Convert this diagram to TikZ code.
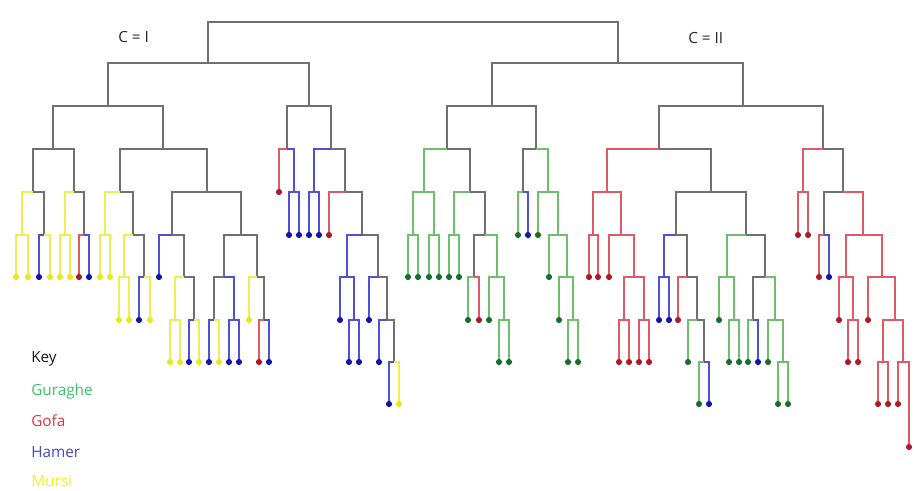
\documentclass[tikz,border=0pt]{standalone}
\usepackage{fontspec}
\setmainfont{Open Sans}
\definecolor{cK}{RGB}{112,112,112}
\definecolor{cG}{RGB}{110,190,110}
\definecolor{cR}{RGB}{222,90,100}
\definecolor{cB}{RGB}{80,80,215}
\definecolor{cY}{RGB}{238,238,80}
\definecolor{dG}{RGB}{25,110,45}
\definecolor{dR}{RGB}{175,25,35}
\definecolor{dB}{RGB}{20,20,170}
\definecolor{dY}{RGB}{232,232,30}
\definecolor{tG}{RGB}{60,195,100}
\definecolor{tR}{RGB}{225,50,70}
\definecolor{tB}{RGB}{70,70,205}
\definecolor{tY}{RGB}{240,240,40}
\newcommand\Br[5]{\coordinate (#2) at (#3,#4); \draw[#5] (#1) -| (#2);}
\newcommand\Lv[5]{\coordinate (#2) at (#3,#4); \draw[#5] (#1) -| (#2); \fill[#5d] (#2) circle (2.3pt);}
\tikzset{
  sK/.style={draw=cK,line width=1.5pt},
  sG/.style={draw=cG,line width=1.1pt},
  sR/.style={draw=cR,line width=1.1pt},
  sB/.style={draw=cB,line width=1.1pt},
  sY/.style={draw=cY,line width=1.1pt},
  sGd/.style={fill=dG},
  sRd/.style={fill=dR},
  sBd/.style={fill=dB},
  sYd/.style={fill=dY},
  lab/.style={inner sep=0pt,anchor=base west,font=\fontsize{11.5}{13}\selectfont},
}
\begin{document}
\begin{tikzpicture}[x=0.75pt,y=-0.75pt]
\useasboundingbox (0,0) rectangle (914,491);
\fill[white] (0,0) rectangle (914,491);
\coordinate (r) at (413,22);
\Br{r}{L}{208}{63}{sK}
\Br{r}{R}{618}{63}{sK}
\Br{L}{A}{108}{106}{sK}
\Br{L}{B}{309}{106}{sK}
\Br{R}{C}{492}{106}{sK}
\Br{R}{D}{743}{106}{sK}
% ---- A
\Br{A}{A1}{53}{149}{sK}
\Br{A}{A2}{163}{149}{sK}
\Br{A1}{a1}{33}{192}{sK}
\Br{a1}{a11}{22}{235}{sY}
\Lv{a11}{l1}{16}{277}{sY}
\Lv{a11}{l2}{28}{277}{sY}
\Br{a1}{a12}{44}{235}{sK}
\Lv{a12}{l3}{39}{277}{sB}
\Lv{a12}{l4}{50}{277}{sY}
\Br{A1}{a2}{74}{192}{sK}
\Br{a2}{a21}{65}{235}{sY}
\Lv{a21}{l5}{60}{277}{sY}
\Lv{a21}{l6}{70}{277}{sY}
\Br{a2}{a22}{84}{235}{sK}
\Lv{a22}{l7}{79}{277}{sR}
\Lv{a22}{l8}{89}{277}{sB}
\Br{A2}{a3}{120}{192}{sK}
\Br{a3}{a31}{105}{235}{sY}
\Lv{a31}{l9}{100}{277}{sY}
\Lv{a31}{l10}{110}{277}{sY}
\Br{a3}{a32}{133}{235}{sK}
\Br{a32}{a321}{124}{277}{sY}
\Lv{a321}{l11}{119}{320}{sY}
\Lv{a321}{l12}{129}{320}{sY}
\Br{a32}{a322}{144}{277}{sK}
\Lv{a322}{l13}{139}{320}{sB}
\Lv{a322}{l14}{150}{320}{sY}
\Br{A2}{a4}{207}{192}{sK}
\Br{a4}{a41}{172}{235}{sK}
\Lv{a41}{l15}{159}{277}{sB}
\Br{a41}{a411}{184}{277}{sK}
\Br{a411}{a4111}{175}{320}{sY}
\Lv{a4111}{l16}{170}{362}{sY}
\Lv{a4111}{l17}{180}{362}{sY}
\Br{a411}{a4112}{194}{320}{sK}
\Lv{a4112}{l18}{189}{362}{sB}
\Lv{a4112}{l19}{199}{362}{sY}
\Br{a4}{a42}{241}{235}{sK}
\Br{a42}{a421}{224}{277}{sK}
\Br{a421}{a4211}{214}{320}{sK}
\Lv{a4211}{l20}{209}{362}{sB}
\Lv{a4211}{l21}{219}{362}{sY}
\Br{a421}{a4212}{234}{320}{sB}
\Lv{a4212}{l22}{229}{362}{sB}
\Lv{a4212}{l23}{239}{362}{sB}
\Br{a42}{a422}{257}{277}{sK}
\Lv{a422}{l24}{249}{320}{sY}
\Br{a422}{a4221}{264}{320}{sK}
\Lv{a4221}{l25}{259}{362}{sR}
\Lv{a4221}{l26}{269}{362}{sB}
% ---- B
\Br{B}{b1}{287}{149}{sK}
\Lv{b1}{m1}{279}{192}{sR}
\Br{b1}{b12}{294}{192}{sB}
\Lv{b12}{m2}{289}{235}{sB}
\Lv{b12}{m3}{299}{235}{sB}
\Br{B}{b2}{331}{149}{sK}
\Br{b2}{b21}{314}{192}{sB}
\Lv{b21}{m4}{309}{235}{sB}
\Lv{b21}{m5}{319}{235}{sB}
\Br{b2}{b22}{345}{192}{sK}
\Lv{b22}{m6}{329}{235}{sR}
\Br{b22}{b222}{362}{235}{sK}
\Br{b222}{b2221}{347}{277}{sB}
\Lv{b2221}{m7}{340}{320}{sB}
\Br{b2221}{b22212}{354}{320}{sB}
\Lv{b22212}{m8}{349}{362}{sB}
\Lv{b22212}{m9}{359}{362}{sB}
\Br{b222}{b2222}{378}{277}{sK}
\Lv{b2222}{m10}{369}{320}{sB}
\Br{b2222}{b22222}{387}{320}{sK}
\Lv{b22222}{m11}{379}{362}{sB}
\Br{b22222}{b6}{394}{362}{sK}
\Lv{b6}{m12}{389}{404}{sB}
\Lv{b6}{m13}{399}{404}{sY}
% ---- C
\Br{C}{c1}{447}{149}{sK}
\Br{c1}{c11}{424}{192}{sG}
\Br{c11}{c111}{413}{235}{sG}
\Lv{c111}{n1}{408}{277}{sG}
\Lv{c111}{n2}{418}{277}{sG}
\Br{c11}{c112}{434}{235}{sG}
\Lv{c112}{n3}{429}{277}{sG}
\Lv{c112}{n4}{439}{277}{sG}
\Br{c1}{c12}{470}{192}{sK}
\Br{c12}{c121}{454}{235}{sG}
\Lv{c121}{n5}{449}{277}{sG}
\Lv{c121}{n6}{459}{277}{sG}
\Br{c12}{c122}{485}{235}{sK}
\Br{c122}{c1221}{474}{277}{sK}
\Lv{c1221}{n7}{468}{320}{sG}
\Lv{c1221}{n8}{479}{320}{sR}
\Br{c122}{c1222}{497}{277}{sG}
\Lv{c1222}{n9}{489}{320}{sG}
\Br{c1222}{c12222}{504}{320}{sG}
\Lv{c12222}{n10}{499}{362}{sG}
\Lv{c12222}{n11}{509}{362}{sG}
\Br{C}{c2}{536}{149}{sK}
\Br{c2}{c21}{523}{192}{sK}
\Lv{c21}{n12}{518}{235}{sG}
\Lv{c21}{n13}{528}{235}{sB}
\Br{c2}{c22}{548}{192}{sG}
\Lv{c22}{n14}{538}{235}{sG}
\Br{c22}{c222}{558}{235}{sG}
\Lv{c222}{n15}{549}{277}{sG}
\Br{c222}{c2222}{567}{277}{sG}
\Lv{c2222}{n16}{559}{320}{sG}
\Br{c2222}{c22222}{573}{320}{sG}
\Lv{c22222}{n17}{568}{362}{sG}
\Lv{c22222}{n18}{578}{362}{sG}
% ---- D
\Br{D}{d1}{659}{149}{sK}
\Br{d1}{d11}{607}{192}{sR}
\Br{d11}{d111}{593}{235}{sR}
\Lv{d111}{p1}{589}{277}{sR}
\Lv{d111}{p2}{598}{277}{sR}
\Br{d11}{d112}{621}{235}{sR}
\Lv{d112}{p3}{609}{277}{sR}
\Br{d112}{d1122}{634}{277}{sR}
\Br{d1122}{d11221}{624}{320}{sR}
\Lv{d11221}{p4}{619}{362}{sR}
\Lv{d11221}{p5}{629}{362}{sR}
\Br{d1122}{d11222}{644}{320}{sR}
\Lv{d11222}{p6}{639}{362}{sR}
\Lv{d11222}{p7}{649}{362}{sR}
\Br{d1}{d12}{711}{192}{sK}
\Br{d12}{d121}{676}{235}{sK}
\Br{d121}{d1211}{664}{277}{sB}
\Lv{d1211}{p8}{659}{320}{sB}
\Lv{d1211}{p9}{669}{320}{sB}
\Br{d121}{d1212}{687}{277}{sK}
\Lv{d1212}{p10}{678}{320}{sR}
\Br{d1212}{d12122}{697}{320}{sK}
\Lv{d12122}{p11}{688}{362}{sG}
\Br{d12122}{d121222}{704}{362}{sK}
\Lv{d121222}{p12}{699}{404}{sG}
\Lv{d121222}{p13}{709}{404}{sB}
\Br{d12}{d122}{746}{235}{sK}
\Br{d122}{d1221}{727}{277}{sG}
\Lv{d1221}{p14}{719}{320}{sG}
\Br{d1221}{d12212}{734}{320}{sG}
\Lv{d12212}{p15}{729}{362}{sG}
\Lv{d12212}{p16}{739}{362}{sG}
\Br{d122}{d1222}{765}{277}{sK}
\Br{d1222}{d12221}{753}{320}{sK}
\Lv{d12221}{p17}{748}{362}{sG}
\Lv{d12221}{p18}{758}{362}{sB}
\Br{d1222}{d12222}{775}{320}{sG}
\Lv{d12222}{p19}{768}{362}{sG}
\Br{d12222}{d122222}{783}{362}{sG}
\Lv{d122222}{p20}{778}{404}{sG}
\Lv{d122222}{p21}{788}{404}{sG}
\Br{D}{d2}{823}{149}{sK}
\Br{d2}{d21}{803}{192}{sR}
\Lv{d21}{q1}{798}{235}{sR}
\Lv{d21}{q2}{808}{235}{sR}
\Br{d2}{d22}{843}{192}{sK}
\Br{d22}{d221}{824}{235}{sK}
\Lv{d221}{q3}{819}{277}{sR}
\Lv{d221}{q4}{829}{277}{sB}
\Br{d22}{d222}{863}{235}{sR}
\Br{d222}{d2221}{846}{277}{sR}
\Lv{d2221}{q5}{839}{320}{sR}
\Br{d2221}{d22212}{853}{320}{sR}
\Lv{d22212}{q6}{848}{362}{sR}
\Lv{d22212}{q7}{858}{362}{sR}
\Br{d222}{d2222}{882}{277}{sR}
\Lv{d2222}{q8}{868}{320}{sR}
\Br{d2222}{d22222}{895}{320}{sR}
\Br{d22222}{d222221}{883}{362}{sR}
\Lv{d222221}{q9}{878}{404}{sR}
\Lv{d222221}{q10}{888}{404}{sR}
\Br{d22222}{d222222}{903}{362}{sR}
\Lv{d222222}{q11}{898}{404}{sR}
\Lv{d222222}{q12}{909}{447}{sR}
% ---- labels
\node[lab,text=black!85] (ci) at (118,43) {C = I};
\node[lab,text=black!85] (cii) at (688,44) {C = II};
\node[lab,text=black!90] (key) at (31,363) {Key};
\node[lab,text=tG] (kg) at (31,396) {Guraghe};
\node[lab,text=tR] (kr) at (31,427) {Gofa};
\node[lab,text=tB] (kb) at (31,457) {Hamer};
\node[lab,text=tY] (ky) at (31,486) {Mursi};
\end{tikzpicture}
\end{document}
